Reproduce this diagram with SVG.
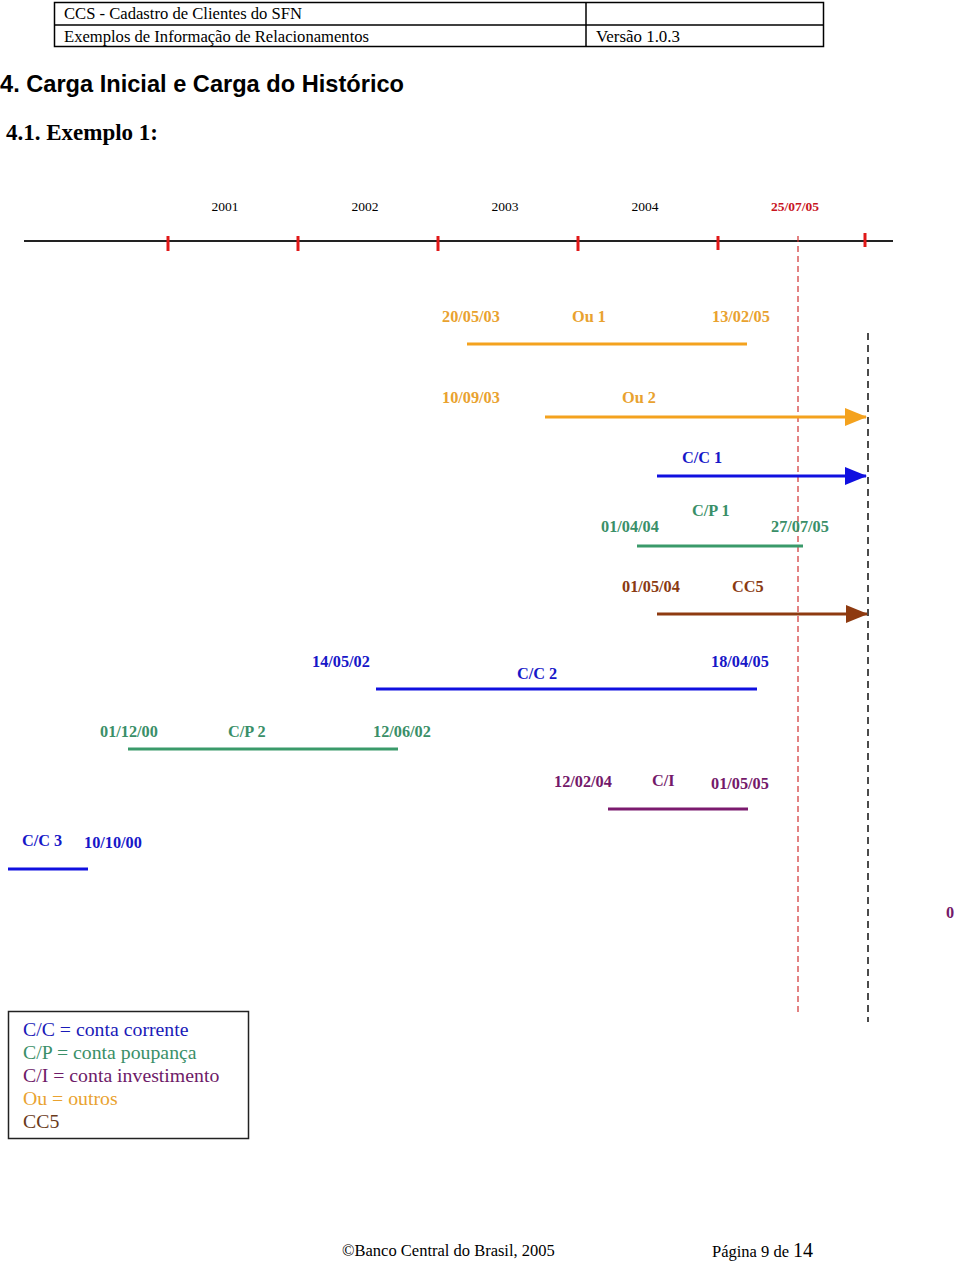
<svg xmlns="http://www.w3.org/2000/svg" width="960" height="1262" viewBox="0 0 960 1262">
<style>
.hdr{font-family:"Liberation Serif",serif;font-size:16.5px;fill:#000}
.ftr{font-family:"Liberation Serif",serif;font-size:16.5px;fill:#000}
.lbl{font-family:"Liberation Serif",serif;font-size:16.3px;font-weight:bold}
.yr{font-family:"Liberation Serif",serif;font-size:13.5px}
.leg{font-family:"Liberation Serif",serif;font-size:19.8px}
.or{fill:#E9A22F}.bl{fill:#1717C8}.gr{fill:#3A8F68}.br{fill:#8A3A12}.pu{fill:#74196A}
.bar{stroke-width:3;fill:none}
</style>
<defs>
<marker id="ah-or" markerUnits="userSpaceOnUse" markerWidth="22" markerHeight="18" refX="21" refY="9" orient="auto"><path d="M0,0 L22,9 L0,18 z" fill="#F4A21E"/></marker>
<marker id="ah-bl" markerUnits="userSpaceOnUse" markerWidth="22" markerHeight="18" refX="21" refY="9" orient="auto"><path d="M0,0 L22,9 L0,18 z" fill="#1010E0"/></marker>
<marker id="ah-br" markerUnits="userSpaceOnUse" markerWidth="22" markerHeight="18" refX="21" refY="9" orient="auto"><path d="M0,0 L22,9 L0,18 z" fill="#8E3A10"/></marker>
</defs>

<g id="header">
<rect x="54.5" y="2.5" width="769" height="44" fill="none" stroke="#000" stroke-width="1.5"/>
<line x1="54" y1="25" x2="823" y2="25" stroke="#000" stroke-width="1.5"/>
<line x1="586" y1="2" x2="586" y2="46" stroke="#000" stroke-width="1.5"/>
<text class="hdr" x="64" y="19" textLength="238" lengthAdjust="spacingAndGlyphs">CCS - Cadastro de Clientes do SFN</text>
<text class="hdr" x="64" y="42" textLength="305" lengthAdjust="spacingAndGlyphs">Exemplos de Informação de Relacionamentos</text>
<text class="hdr" x="596" y="42" textLength="84" lengthAdjust="spacingAndGlyphs">Versão 1.0.3</text>
</g>

<g id="titles">
<text x="0" y="92" font-family="Liberation Sans,Arial,sans-serif" font-size="24" font-weight="bold" textLength="404" lengthAdjust="spacingAndGlyphs">4.  Carga Inicial e Carga do Histórico</text>
<text x="6" y="140" font-family="Liberation Serif,serif" font-size="24" font-weight="bold" textLength="152" lengthAdjust="spacingAndGlyphs">4.1. Exemplo 1:</text>
</g>

<g id="timeline">
<line x1="24" y1="241" x2="893" y2="241" stroke="#222" stroke-width="2"/>
<g stroke="#E01818" stroke-width="3">
<line x1="168" y1="236" x2="168" y2="251"/>
<line x1="298" y1="236" x2="298" y2="251"/>
<line x1="438" y1="236" x2="438" y2="251"/>
<line x1="578" y1="236" x2="578" y2="251"/>
<line x1="718" y1="236" x2="718" y2="250"/>
<line x1="865" y1="233" x2="865" y2="247"/>
</g>
<text class="yr" x="225" y="211" text-anchor="middle" fill="#000">2001</text>
<text class="yr" x="365" y="211" text-anchor="middle" fill="#000">2002</text>
<text class="yr" x="505" y="211" text-anchor="middle" fill="#000">2003</text>
<text class="yr" x="645" y="211" text-anchor="middle" fill="#000">2004</text>
<text class="yr" x="795" y="211" text-anchor="middle" font-weight="bold" fill="#C8141E">25/07/05</text>
</g>

<g id="cutoff-lines">
<line x1="798" y1="236" x2="798" y2="1015" stroke="#D03030" stroke-width="1.2" stroke-dasharray="6,4"/>
<line x1="868" y1="333" x2="868" y2="1022" stroke="#111" stroke-width="1.5" stroke-dasharray="7,5"/>
</g>

<g id="ou1">
<text class="lbl or" x="442" y="322">20/05/03</text>
<text class="lbl or" x="572" y="322">Ou 1</text>
<text class="lbl or" x="712" y="322">13/02/05</text>
</g>
<g id="ou2">
<text class="lbl or" x="442" y="403">10/09/03</text>
<text class="lbl or" x="622" y="403">Ou 2</text>
</g>
<g id="cc1">
<text class="lbl bl" x="682" y="463">C/C 1</text>
</g>
<g id="cp1">
<text class="lbl gr" x="692" y="516">C/P 1</text>
<text class="lbl gr" x="601" y="532">01/04/04</text>
<text class="lbl gr" x="771" y="532">27/07/05</text>
</g>
<g id="cc5">
<text class="lbl br" x="622" y="592">01/05/04</text>
<text class="lbl br" x="732" y="592">CC5</text>
</g>
<g id="cc2">
<text class="lbl bl" x="312" y="667">14/05/02</text>
<text class="lbl bl" x="711" y="667">18/04/05</text>
<text class="lbl bl" x="517" y="679">C/C 2</text>
</g>
<g id="cp2">
<text class="lbl gr" x="100" y="737">01/12/00</text>
<text class="lbl gr" x="228" y="737">C/P 2</text>
<text class="lbl gr" x="373" y="737">12/06/02</text>
</g>
<g id="ci">
<text class="lbl pu" x="554" y="787">12/02/04</text>
<text class="lbl pu" x="652" y="786">C/I</text>
<text class="lbl pu" x="711" y="789">01/05/05</text>
</g>
<g id="cc3">
<text class="lbl bl" x="22" y="846">C/C 3</text>
<text class="lbl bl" x="84" y="848">10/10/00</text>
</g>
<g id="zero">
<text class="lbl pu" x="946" y="918">0</text>
</g>

<g id="connectors">
<line class="bar" x1="467" y1="344" x2="747" y2="344" stroke="#F4A21E"/>
<line class="bar" x1="545" y1="417" x2="866" y2="417" stroke="#F4A21E" marker-end="url(#ah-or)"/>
<line class="bar" x1="657" y1="476" x2="866" y2="476" stroke="#1010E0" marker-end="url(#ah-bl)"/>
<line class="bar" x1="637" y1="546" x2="803" y2="546" stroke="#3A9A6A"/>
<line class="bar" x1="657" y1="614" x2="867" y2="614" stroke="#8E3A10" marker-end="url(#ah-br)"/>
<line class="bar" x1="376" y1="689" x2="757" y2="689" stroke="#1010E0"/>
<line class="bar" x1="128" y1="749" x2="398" y2="749" stroke="#3A9A6A"/>
<line class="bar" x1="608" y1="809" x2="748" y2="809" stroke="#7B1A6E"/>
<line class="bar" x1="8" y1="869" x2="88" y2="869" stroke="#1010E0"/>
</g>

<g id="legend">
<rect x="8.5" y="1011.5" width="240" height="127" fill="#fff" stroke="#222" stroke-width="1.5"/>
<text class="leg" x="23" y="1036" fill="#1A1AB8">C/C = conta corrente</text>
<text class="leg" x="23" y="1059" fill="#3A8F68">C/P = conta poupança</text>
<text class="leg" x="23" y="1082" fill="#6E1A68">C/I = conta investimento</text>
<text class="leg" x="23" y="1105" fill="#E9A22F">Ou = outros</text>
<text class="leg" x="23" y="1128" fill="#6A3A1A">CC5</text>
</g>

<g id="footer">
<text class="ftr" x="342" y="1256">©Banco Central do Brasil, 2005</text>
<text class="ftr" x="712" y="1257">Página 9 de <tspan font-size="20">14</tspan></text>
</g>
</svg>
